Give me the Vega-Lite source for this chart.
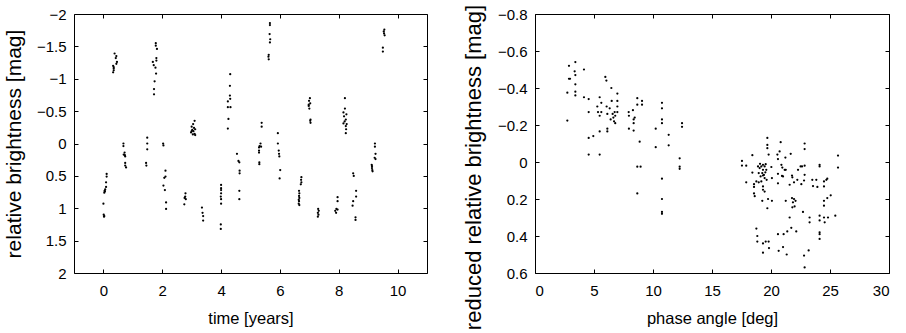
{
  "$schema": "https://vega.github.io/schema/vega-lite/v6.json",
  "padding": {"left": 2, "top": 3, "right": 5, "bottom": 0},
  "background": "white",
  "spacing": 108,
  "bounds": "flush",
  "datasets": {
    "lc": [
      {"t":0.11,"m":0.47},{"t":0.11,"m":0.51},{"t":0.09,"m":0.60},{"t":0.09,"m":0.67},{"t":0.06,"m":0.71},{"t":0.05,"m":0.74},{"t":0.03,"m":0.76},{"t":0.04,"m":0.73},{"t":0.0,"m":0.93},{"t":0.01,"m":1.10},{"t":0.02,"m":1.13},{"t":0.03,"m":1.12},
      {"t":0.38,"m":-1.39},{"t":0.44,"m":-1.35},{"t":0.42,"m":-1.32},{"t":0.46,"m":-1.26},{"t":0.44,"m":-1.23},{"t":0.33,"m":-1.20},{"t":0.35,"m":-1.16},{"t":0.35,"m":-1.13},{"t":0.33,"m":-1.10},{"t":0.35,"m":-1.18},
      {"t":0.68,"m":0.0},{"t":0.68,"m":0.04},{"t":0.72,"m":0.14},{"t":0.69,"m":0.17},{"t":0.74,"m":0.20},{"t":0.73,"m":0.18},{"t":0.74,"m":0.30},{"t":0.74,"m":0.34},{"t":0.77,"m":0.37},
      {"t":1.49,"m":-0.09},{"t":1.49,"m":0.0},{"t":1.49,"m":0.09},{"t":1.45,"m":0.30},{"t":1.46,"m":0.34},
      {"t":1.78,"m":-1.55},{"t":1.78,"m":-1.51},{"t":1.82,"m":-1.46},{"t":1.80,"m":-1.32},{"t":1.68,"m":-1.26},{"t":1.71,"m":-1.21},{"t":1.77,"m":-1.17},{"t":1.79,"m":-1.08},{"t":1.74,"m":-0.96},{"t":1.72,"m":-0.84},{"t":1.72,"m":-0.76},{"t":1.80,"m":-1.28},
      {"t":2.03,"m":0.0},{"t":2.04,"m":0.03},{"t":2.11,"m":0.42},{"t":2.11,"m":0.51},{"t":2.07,"m":0.53},{"t":2.04,"m":0.65},{"t":2.09,"m":0.72},{"t":2.13,"m":0.91},{"t":2.13,"m":1.01},
      {"t":2.79,"m":0.77},{"t":2.78,"m":0.82},{"t":2.76,"m":0.84},{"t":2.80,"m":0.86},{"t":2.75,"m":0.94},
      {"t":3.10,"m":-0.35},{"t":3.05,"m":-0.30},{"t":3.0,"m":-0.26},{"t":3.08,"m":-0.24},{"t":3.12,"m":-0.22},{"t":3.02,"m":-0.21},{"t":3.06,"m":-0.19},{"t":2.98,"m":-0.17},{"t":3.10,"m":-0.15},{"t":3.04,"m":-0.14},{"t":3.12,"m":-0.13},{"t":3.0,"m":-0.19},
      {"t":3.35,"m":0.99},{"t":3.37,"m":1.07},{"t":3.39,"m":1.12},{"t":3.39,"m":1.19},
      {"t":4.0,"m":0.64},{"t":4.0,"m":0.69},{"t":4.0,"m":0.72},{"t":4.0,"m":0.77},{"t":3.99,"m":0.82},{"t":4.0,"m":0.86},{"t":4.0,"m":0.93},{"t":3.99,"m":1.25},{"t":3.99,"m":1.32},
      {"t":4.31,"m":-1.07},{"t":4.30,"m":-0.89},{"t":4.30,"m":-0.74},{"t":4.31,"m":-0.69},{"t":4.23,"m":-0.65},{"t":4.23,"m":-0.56},{"t":4.32,"m":-0.56},{"t":4.25,"m":-0.38},{"t":4.23,"m":-0.23},
      {"t":4.54,"m":0.16},{"t":4.59,"m":0.27},{"t":4.62,"m":0.29},{"t":4.63,"m":0.42},{"t":4.63,"m":0.46},{"t":4.62,"m":0.73},{"t":4.62,"m":0.86},
      {"t":5.38,"m":-0.32},{"t":5.38,"m":-0.26},{"t":5.34,"m":0.0},{"t":5.31,"m":0.04},{"t":5.29,"m":0.06},{"t":5.29,"m":0.11},{"t":5.29,"m":0.14},{"t":5.30,"m":0.29},{"t":5.30,"m":0.32},{"t":5.36,"m":0.05},
      {"t":5.66,"m":-1.86},{"t":5.66,"m":-1.83},{"t":5.65,"m":-1.69},{"t":5.67,"m":-1.61},{"t":5.66,"m":-1.56},{"t":5.62,"m":-1.37},{"t":5.62,"m":-1.30},{"t":5.61,"m":-1.34},
      {"t":5.93,"m":-0.16},{"t":5.93,"m":0.0},{"t":5.96,"m":0.11},{"t":5.97,"m":0.16},{"t":5.98,"m":0.2},{"t":6.01,"m":0.41},{"t":5.99,"m":0.54},
      {"t":6.73,"m":0.52},{"t":6.72,"m":0.56},{"t":6.73,"m":0.60},{"t":6.71,"m":0.63},{"t":6.65,"m":0.73},{"t":6.66,"m":0.77},{"t":6.65,"m":0.81},{"t":6.66,"m":0.84},{"t":6.64,"m":0.87},{"t":6.65,"m":0.89},{"t":6.64,"m":0.93},{"t":6.66,"m":0.95},
      {"t":7.02,"m":-0.70},{"t":6.99,"m":-0.66},{"t":7.03,"m":-0.62},{"t":6.98,"m":-0.58},{"t":7.0,"m":-0.54},{"t":7.04,"m":-0.37},{"t":7.03,"m":-0.35},{"t":7.04,"m":-0.32},{"t":6.98,"m":-0.60},
      {"t":7.30,"m":1.01},{"t":7.32,"m":1.04},{"t":7.29,"m":1.07},{"t":7.31,"m":1.10},{"t":7.29,"m":1.13},
      {"t":7.96,"m":0.83},{"t":7.96,"m":0.89},{"t":7.92,"m":1.01},{"t":7.96,"m":1.02},{"t":7.88,"m":1.04},{"t":7.91,"m":1.07},
      {"t":8.21,"m":-0.70},{"t":8.21,"m":-0.54},{"t":8.16,"m":-0.48},{"t":8.26,"m":-0.45},{"t":8.18,"m":-0.42},{"t":8.24,"m":-0.37},{"t":8.20,"m":-0.34},{"t":8.27,"m":-0.30},{"t":8.24,"m":-0.27},{"t":8.25,"m":-0.22},{"t":8.24,"m":-0.16},{"t":8.16,"m":-0.31},
      {"t":8.49,"m":0.46},{"t":8.51,"m":0.50},{"t":8.59,"m":0.73},{"t":8.59,"m":0.82},{"t":8.49,"m":0.89},{"t":8.47,"m":0.96},{"t":8.57,"m":1.14},{"t":8.57,"m":1.18},
      {"t":9.23,"m":0.0},{"t":9.23,"m":0.05},{"t":9.25,"m":0.16},{"t":9.22,"m":0.22},{"t":9.25,"m":0.24},{"t":9.12,"m":0.33},{"t":9.13,"m":0.35},{"t":9.13,"m":0.38},{"t":9.14,"m":0.41},{"t":9.15,"m":0.43},
      {"t":9.55,"m":-1.76},{"t":9.53,"m":-1.73},{"t":9.54,"m":-1.70},{"t":9.56,"m":-1.67},{"t":9.50,"m":-1.48},{"t":9.50,"m":-1.42}
    ],
    "pc": [
      {"a":2.74,"r":-0.375},{"a":2.74,"r":-0.224},{"a":2.88,"r":-0.52},{"a":2.88,"r":-0.45},{"a":2.97,"r":-0.45},{"a":3.36,"r":-0.49},{"a":3.42,"r":-0.54},{"a":3.42,"r":-0.47},{"a":3.42,"r":-0.42},{"a":3.42,"r":-0.38},{"a":3.42,"r":-0.36},
      {"a":4.15,"r":-0.50},{"a":4.15,"r":-0.35},{"a":4.55,"r":-0.34},{"a":4.55,"r":-0.27},{"a":4.55,"r":-0.13},{"a":4.55,"r":-0.04},{"a":4.94,"r":-0.14},{"a":5.28,"r":-0.30},{"a":5.34,"r":-0.27},{"a":5.48,"r":-0.35},{"a":5.48,"r":-0.25},{"a":5.48,"r":-0.165},{"a":5.48,"r":-0.04},{"a":5.62,"r":-0.32},{"a":5.62,"r":-0.27},
      {"a":5.96,"r":-0.46},{"a":6.05,"r":-0.44},{"a":6.07,"r":-0.30},{"a":6.13,"r":-0.26},{"a":6.13,"r":-0.18},{"a":6.13,"r":-0.165},{"a":6.33,"r":-0.29},{"a":6.41,"r":-0.23},{"a":6.47,"r":-0.40},{"a":6.5,"r":-0.33},{"a":6.58,"r":-0.26},{"a":6.64,"r":-0.24},{"a":6.7,"r":-0.22},{"a":6.75,"r":-0.27},{"a":6.8,"r":-0.25},{"a":6.8,"r":-0.21},{"a":6.98,"r":-0.37},{"a":6.98,"r":-0.33},{"a":6.98,"r":-0.30},{"a":6.98,"r":-0.27},
      {"a":7.94,"r":-0.27},{"a":7.96,"r":-0.25},{"a":7.96,"r":-0.18},{"a":8.3,"r":-0.28},{"a":8.36,"r":-0.23},{"a":8.36,"r":-0.21},{"a":8.36,"r":-0.17},{"a":8.45,"r":-0.24},{"a":8.67,"r":-0.345},{"a":8.67,"r":-0.31},{"a":8.67,"r":0.025},{"a":8.67,"r":0.17},{"a":8.87,"r":-0.11},{"a":8.95,"r":0.025},{"a":9.07,"r":-0.33},{"a":9.07,"r":-0.31},
      {"a":10.23,"r":-0.18},{"a":10.23,"r":-0.08},{"a":10.76,"r":-0.32},{"a":10.76,"r":-0.29},{"a":10.76,"r":-0.23},{"a":10.76,"r":-0.21},{"a":10.76,"r":0.09},{"a":10.76,"r":0.20},{"a":10.76,"r":0.27},{"a":10.76,"r":0.28},{"a":11.33,"r":-0.147},{"a":11.33,"r":-0.09},{"a":12.26,"r":-0.02},{"a":12.26,"r":0.025},{"a":12.26,"r":0.037},{"a":12.46,"r":-0.21},{"a":12.46,"r":-0.19},
      {"a":17.54,"r":-0.006},{"a":17.54,"r":0.019},{"a":17.9,"r":0.02},{"a":17.9,"r":0.11},{"a":18.42,"r":-0.037},{"a":18.42,"r":0.057},{"a":18.56,"r":0.12},{"a":18.56,"r":0.135},{"a":18.56,"r":0.17},{"a":18.62,"r":0.185},{"a":18.76,"r":0.105},{"a":18.76,"r":0.36},{"a":18.84,"r":0.40},{"a":18.84,"r":0.43},{"a":18.9,"r":0.024},{"a":18.96,"r":0.06},{"a":18.96,"r":0.11},{"a":19.04,"r":0.033},{"a":19.07,"r":0.01},{"a":19.12,"r":0.078},{"a":19.18,"r":0.024},{"a":19.18,"r":0.105},{"a":19.26,"r":0.06},{"a":19.26,"r":0.21},{"a":19.32,"r":0.015},{"a":19.32,"r":0.042},{"a":19.32,"r":0.073},{"a":19.32,"r":0.132},{"a":19.32,"r":0.15},{"a":19.32,"r":0.44},{"a":19.32,"r":0.49},{"a":19.4,"r":0.07},{"a":19.46,"r":0.024},{"a":19.46,"r":0.087},{"a":19.46,"r":0.16},{"a":19.52,"r":0.056},{"a":19.55,"r":0.012},{"a":19.55,"r":0.43},{"a":19.6,"r":0.042},{"a":19.63,"r":0.096},{"a":19.69,"r":-0.13},{"a":19.69,"r":-0.092},{"a":19.69,"r":-0.075},{"a":19.69,"r":0.25},{"a":19.75,"r":0.20},{"a":19.8,"r":-0.04},{"a":19.83,"r":0.465},{"a":19.8,"r":0.43},
      {"a":20.03,"r":0.027},{"a":20.08,"r":0.087},{"a":20.08,"r":0.21},{"a":20.54,"r":-0.04},{"a":20.59,"r":-0.016},{"a":20.59,"r":0.064},{"a":20.59,"r":0.115},{"a":20.59,"r":0.39},{"a":20.65,"r":0.48},{"a":20.73,"r":-0.057},{"a":20.82,"r":-0.107},{"a":20.88,"r":0.015},{"a":20.93,"r":0.075},{"a":20.96,"r":0.03},{"a":21.02,"r":0.078},{"a":21.02,"r":0.46},{"a":21.07,"r":0.39},{"a":21.16,"r":0.042},{"a":21.22,"r":-0.024},{"a":21.25,"r":0.042},{"a":21.25,"r":0.21},{"a":21.33,"r":0.50},{"a":21.38,"r":0.375},{"a":21.58,"r":0.123},{"a":21.58,"r":0.30},{"a":21.67,"r":-0.044},{"a":21.72,"r":0.356},{"a":21.78,"r":0.073},{"a":21.78,"r":0.195},{"a":21.81,"r":0.083},{"a":21.81,"r":0.245},{"a":21.86,"r":0.218},{"a":21.95,"r":0.11},{"a":21.95,"r":0.20},{"a":22.0,"r":0.24},{"a":22.08,"r":0.21},{"a":22.14,"r":0.375},{"a":22.23,"r":0.096},{"a":22.29,"r":0.042},{"a":22.51,"r":0.024},{"a":22.57,"r":0.12},{"a":22.63,"r":0.024},{"a":22.71,"r":0.27},{"a":22.8,"r":0.10},{"a":22.8,"r":0.506},{"a":22.85,"r":-0.10},{"a":22.85,"r":-0.07},{"a":22.85,"r":0.02},{"a":22.85,"r":0.069},{"a":22.85,"r":0.57},
      {"a":23.19,"r":0.478},{"a":23.27,"r":0.30},{"a":23.27,"r":0.326},{"a":23.5,"r":0.096},{"a":23.56,"r":0.13},{"a":23.84,"r":0.096},{"a":23.93,"r":0.135},{"a":24.12,"r":0.015},{"a":24.12,"r":0.024},{"a":24.12,"r":0.29},{"a":24.12,"r":0.316},{"a":24.12,"r":0.38},{"a":24.12,"r":0.39},{"a":24.12,"r":0.416},{"a":24.49,"r":0.105},{"a":24.49,"r":0.132},{"a":24.49,"r":0.21},{"a":24.49,"r":0.236},{"a":24.49,"r":0.30},{"a":24.55,"r":0.326},{"a":24.69,"r":0.096},{"a":24.77,"r":0.09},{"a":24.77,"r":0.195},{"a":24.83,"r":0.30},{"a":25.06,"r":0.18},{"a":25.45,"r":0.29},{"a":25.68,"r":-0.035},{"a":25.68,"r":0.03}
    ]
  },
  "hconcat": [
    {
      "width": 353,
      "height": 259,
      "data": {"name": "lc"},
      "resolve": {"axis": {"x": "independent", "y": "independent"}},
      "layer": [
        {
          "mark": {"type": "circle", "size": 5, "color": "black", "opacity": 1},
          "encoding": {
            "x": {"field": "t", "type": "quantitative", "scale": {"domain": [-1, 11], "nice": false, "zero": false},
                  "axis": {"orient": "bottom", "values": [0, 2, 4, 6, 8, 10], "title": "time [years]", "format": "d"}},
            "y": {"field": "m", "type": "quantitative", "scale": {"domain": [-2, 2], "reverse": true, "nice": false, "zero": false},
                  "axis": {"orient": "left", "values": [-2, -1.5, -1, -0.5, 0, 0.5, 1, 1.5, 2], "title": "relative brightness [mag]", "format": "~g"}}
          }
        },
        {
          "mark": {"type": "circle", "size": 4, "opacity": 0},
          "encoding": {
            "x": {"field": "t", "type": "quantitative", "axis": {"orient": "top", "values": [0, 2, 4, 6, 8, 10], "labels": false, "title": null}},
            "y": {"field": "m", "type": "quantitative", "axis": {"orient": "right", "values": [-2, -1.5, -1, -0.5, 0, 0.5, 1, 1.5, 2], "labels": false, "title": null}}
          }
        }
      ]
    },
    {
      "width": 354,
      "height": 259,
      "data": {"name": "pc"},
      "resolve": {"axis": {"x": "independent", "y": "independent"}},
      "layer": [
        {
          "mark": {"type": "circle", "size": 5, "color": "black", "opacity": 1},
          "encoding": {
            "x": {"field": "a", "type": "quantitative", "scale": {"domain": [0, 30], "nice": false, "zero": false},
                  "axis": {"orient": "bottom", "values": [0, 5, 10, 15, 20, 25, 30], "title": "phase angle [deg]", "format": "d"}},
            "y": {"field": "r", "type": "quantitative", "scale": {"domain": [-0.8, 0.6], "reverse": true, "nice": false, "zero": false},
                  "axis": {"orient": "left", "values": [-0.8, -0.6, -0.4, -0.2, 0, 0.2, 0.4, 0.6], "title": "reduced relative brightness [mag]", "format": "~g", "titleY": 153, "titleFontSize": 22}}
          }
        },
        {
          "mark": {"type": "circle", "size": 4, "opacity": 0},
          "encoding": {
            "x": {"field": "a", "type": "quantitative", "axis": {"orient": "top", "values": [0, 5, 10, 15, 20, 25, 30], "labels": false, "title": null}},
            "y": {"field": "r", "type": "quantitative", "axis": {"orient": "right", "values": [-0.8, -0.6, -0.4, -0.2, 0, 0.2, 0.4, 0.6], "labels": false, "title": null}}
          }
        }
      ]
    }
  ],
  "config": {
    "view": {"stroke": "black", "strokeWidth": 1},
    "axis": {
      "grid": false,
      "domain": false,
      "ticks": true,
      "tickColor": "black",
      "tickWidth": 1,
      "tickSize": -4,
      "labelFont": "Liberation Sans",
      "labelFontSize": 15,
      "labelColor": "black",
      "titleColor": "black",
      "titleFontWeight": "normal"
    },
    "axisBottom": {"labelPadding": 14, "titleFont": "Liberation Sans", "titleFontSize": 16.5, "titlePadding": 12},
    "axisTop": {"labelPadding": 0},
    "axisLeft": {"labelPadding": 12, "titleFont": "Liberation Sans", "titleFontSize": 21, "titlePadding": 12},
    "axisRight": {"labelPadding": 0}
  }
}
